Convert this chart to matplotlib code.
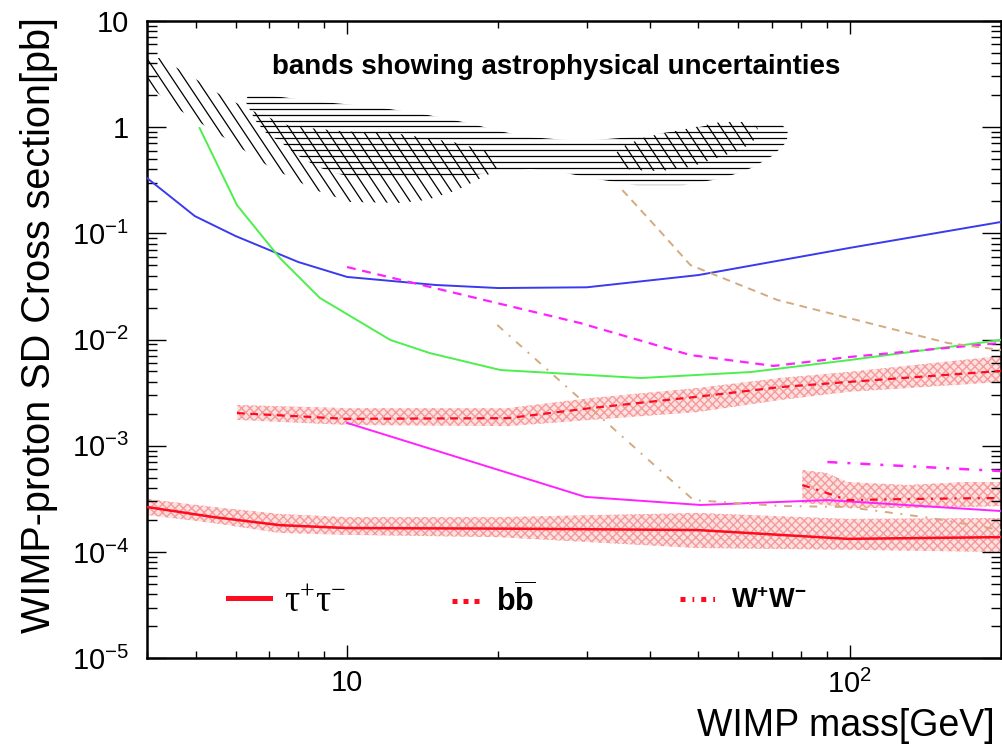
import numpy as np
import matplotlib
matplotlib.use("Agg")
import matplotlib.pyplot as plt
from matplotlib.patches import Polygon
from matplotlib.collections import LineCollection
from matplotlib.lines import Line2D
from matplotlib.legend import Legend
from matplotlib.ticker import FuncFormatter, LogLocator, NullFormatter

plt.rcParams['font.family'] = 'Liberation Sans'
plt.rcParams['mathtext.fontset'] = 'custom'
plt.rcParams['mathtext.rm'] = 'Liberation Sans'
plt.rcParams['mathtext.it'] = 'Liberation Sans:italic'
plt.rcParams['mathtext.bf'] = 'Liberation Sans:bold'
plt.rcParams['mathtext.sf'] = 'Liberation Serif'   # serif tau in the legend

# ---- limit curves: WIMP mass [GeV] vs SD cross section [pb]
blue_m = [4.0, 4.98, 6.0, 8.0, 10, 15, 20, 30, 50, 100, 200]
blue_s = [0.331, 0.145, 0.0942, 0.0536, 0.0388, 0.0326, 0.0305, 0.031, 0.0404, 0.0728, 0.1277]

green_m = [5.09, 6.04, 7.35, 8.83, 12.2, 14.6, 20.2, 38.4, 63.5, 100, 200]
green_s = [0.978, 0.184, 0.0585, 0.0246, 0.00989, 0.00746, 0.00516, 0.00434, 0.00494, 0.00641, 0.00989]

mag_dash_m = [10, 29.1, 48.2, 70.6, 100.3, 200]
mag_dash_s = [0.0481, 0.01428, 0.00714, 0.00564, 0.00686, 0.00929]

mag_m = [10, 29.8, 50.5, 90.3, 200]
mag_s = [1.64e-3, 3.30e-4, 2.77e-4, 3.08e-4, 2.43e-4]

mag_dd_m = [90.3, 200]
mag_dd_s = [7.03e-4, 5.78e-4]

tan_dash_m = [35.3, 41.4, 48.2, 71.9, 156.7, 200]
tan_dash_s = [0.255, 0.112, 0.0502, 0.0235, 0.00927, 0.00796]

tan_dd_m = [19.9, 48.9, 72.9, 99, 145, 200]
tan_dd_s = [0.01371, 3.08e-4, 2.71e-4, 2.65e-4, 2.09e-4, 1.61e-4]

# ---- this work: tau+tau-, b bbar, W+W- with their bands
tau_m = [4.0, 5.43, 7.35, 10, 20, 49.8, 99, 200]
tau_s = [2.65e-4, 2.13e-4, 1.79e-4, 1.68e-4, 1.66e-4, 1.61e-4, 1.33e-4, 1.38e-4]
tau_hi = [3.16e-4, 2.65e-4, 2.28e-4, 2.13e-4, 2.13e-4, 2.33e-4, 2.05e-4, 2.09e-4]
tau_lo = [2.23e-4, 1.87e-4, 1.51e-4, 1.45e-4, 1.38e-4, 1.09e-4, 1.05e-4, 1.00e-4]

bb_m = [6.04, 10, 20.9, 30.5, 50, 72.9, 99, 200]
bb_s = [2.03e-3, 1.79e-3, 1.82e-3, 2.26e-3, 2.90e-3, 3.57e-3, 3.98e-3, 5.06e-3]
bb_hi = [2.42e-3, 2.26e-3, 2.26e-3, 2.81e-3, 3.50e-3, 4.35e-3, 4.94e-3, 7.00e-3]
bb_lo = [1.75e-3, 1.57e-3, 1.53e-3, 1.75e-3, 2.08e-3, 2.70e-3, 3.21e-3, 3.98e-3]

ww_m = [80.5, 90, 99, 130, 170, 200]
ww_s = [4.27e-4, 3.60e-4, 3.08e-4, 3.15e-4, 3.20e-4, 3.22e-4]
ww_hi = [5.91e-4, 5.54e-4, 4.56e-4, 4.27e-4, 4.56e-4, 4.56e-4]
ww_lo = [2.89e-4, 2.77e-4, 2.59e-4, 2.59e-4, 2.65e-4, 2.71e-4]

# ---- astrophysical uncertainty regions (outline points)
diag1_m = [4.0, 4.24, 4.82, 5.61, 6.41, 7.70, 9.68, 12.75, 16.26, 19.0, 20.17,
           19.71, 16.56, 14.43, 12.75, 10.14, 8.64, 6.96, 5.93, 4.54, 4.0]
diag1_s = [4.46, 4.46, 3.15, 2.00, 1.45, 1.02, 0.917, 0.859, 0.722, 0.594, 0.469,
           0.385, 0.255, 0.206, 0.193, 0.197, 0.255, 0.430, 0.707, 1.54, 2.54]

horiz_m = [6.35, 6.90, 8.52, 11.37, 13.79, 15.97, 18.07, 20.08, 22.94, 29.12,
           37.13, 45.43, 54.09, 72.86, 75.24, 75.24, 74.55, 70.58, 64.40, 60.10,
           54.83, 46.69, 37.47, 31.33, 27.19, 23.15, 19.00, 16.41, 10.47, 9.46,
           8.75, 7.95, 7.42, 6.87, 6.56, 6.29]
horiz_s = [2.00, 2.00, 1.757, 1.543, 1.354, 1.189, 1.044, 0.917, 0.805, 0.738,
           0.805, 0.917, 1.067, 1.090, 0.917, 0.805, 0.707, 0.545, 0.420, 0.369,
           0.324, 0.284, 0.284, 0.324, 0.369, 0.402, 0.369, 0.331, 0.331, 0.369,
           0.420, 0.545, 0.707, 0.897, 1.164, 1.719]

diag2_m = [33.88, 35.80, 39.23, 44.00, 50.48, 55.34, 63.50, 65.57, 65.57, 62.91,
           59.83, 53.59, 48.24, 42.03, 36.62, 34.19]
diag2_s = [0.545, 0.677, 0.805, 0.897, 1.022, 1.114, 1.114, 0.979, 0.805, 0.677,
           0.594, 0.500, 0.420, 0.385, 0.394, 0.458]

legend_labels = [r'$\mathsf{\tau^{+}\tau^{-}}$', r'$\mathbf{b\overline{b}}$', r'$\mathbf{W^{+}W^{-}}$']
legend_sizes = [27, 22, 19.5]

RED = '#ff0a1e'
BAND_FACE = '#fde0e0'
BAND_HATCH = '#f59a9a'
TAN = '#d4aa80'

W_PX, H_PX = 854, 637.5   # axes size in pixels


def hatch_region(ax, xs, ys, style):
    patch = Polygon(np.column_stack([xs, ys]), closed=True, fill=False, edgecolor='none')
    ax.add_patch(patch)
    if style == 'diag':
        step = 12 / W_PX
        drop = (H_PX / 1.5) / W_PX
        x0 = -0.0155 + step * np.arange(-50, 80)
        segs = [[(x, 1.0), (x + drop, 0.0)] for x in x0]
    else:
        y0 = 0.8804 - np.arange(0, 40) * 5.9 / H_PX
        segs = [[(0.0, y), (1.0, y)] for y in y0]
    lc = LineCollection(segs, colors='black', linewidths=0.9,
                        transform=ax.transAxes, zorder=2)
    ax.add_collection(lc, autolim=False)
    lc.set_clip_path(patch)


def band(ax, m, lo, hi):
    ax.fill_between(m, lo, hi, facecolor=BAND_FACE, edgecolor=BAND_HATCH,
                    hatch='xxxx', linewidth=0, zorder=1)


fig = plt.figure(figsize=(10.03, 7.46), dpi=100)
ax = fig.add_axes([147 / 1003, 87.75 / 746, 854 / 1003, 637.5 / 746])
ax.set_xscale('log')
ax.set_yscale('log')

band(ax, tau_m, tau_lo, tau_hi)
band(ax, bb_m, bb_lo, bb_hi)
band(ax, ww_m, ww_lo, ww_hi)

hatch_region(ax, diag1_m, diag1_s, 'diag')
hatch_region(ax, horiz_m, horiz_s, 'horiz')
hatch_region(ax, diag2_m, diag2_s, 'diag')

ax.plot(blue_m, blue_s, color='#3a3aee', lw=1.4, zorder=3)
ax.plot(green_m, green_s, color='#4cef4c', lw=1.4, zorder=3)
ax.plot(mag_dash_m, mag_dash_s, color='#ff22ff', lw=1.6, ls=(0, (4, 3)), zorder=3)
ax.plot(mag_m, mag_s, color='#ff22ff', lw=1.4, zorder=3)
ax.plot(mag_dd_m, mag_dd_s, color='#ff22ff', lw=1.8, ls=(0, (4, 4, 1.2, 4)), zorder=3)
ax.plot(tan_dash_m, tan_dash_s, color=TAN, lw=1.4, ls=(0, (4, 3)), zorder=3)
ax.plot(tan_dd_m, tan_dd_s, color=TAN, lw=1.4, ls=(0, (4, 4, 1, 4)), zorder=3)

ax.plot(tau_m, tau_s, color=RED, lw=1.8, zorder=4)
ax.plot(bb_m, bb_s, color=RED, lw=1.6, ls=(0, (3.5, 2.5)), zorder=4)
ax.plot(ww_m, ww_s, color=RED, lw=1.6, ls=(0, (3.5, 3, 1, 3)), zorder=4)

ax.set_xlim(4, 200)
ax.set_ylim(1e-5, 10)


def fmt(v, pos):
    if np.isclose(v, 1):
        return '1'
    if np.isclose(v, 10):
        return '10'
    return r'$\mathregular{10^{%d}}$' % round(np.log10(v))


ax.xaxis.set_major_formatter(FuncFormatter(fmt))
ax.yaxis.set_major_formatter(FuncFormatter(fmt))
ax.xaxis.set_minor_formatter(NullFormatter())
ax.yaxis.set_minor_formatter(NullFormatter())
ax.yaxis.set_major_locator(LogLocator(base=10, numticks=20))
ax.yaxis.set_minor_locator(LogLocator(base=10, subs=np.arange(2, 10), numticks=100))
ax.xaxis.set_minor_locator(LogLocator(base=10, subs=np.arange(2, 10), numticks=100))

ax.tick_params(which='both', direction='in', top=True, right=True, width=1.0, labelsize=21)
ax.tick_params(axis='y', which='major', length=13.5, pad=13)
ax.tick_params(axis='y', which='minor', length=7)
ax.tick_params(axis='x', which='major', length=9.5, pad=8)
ax.tick_params(axis='x', which='minor', length=5)
for sp in ax.spines.values():
    sp.set_linewidth(1.8)

ax.set_xlabel('WIMP mass[GeV]', fontsize=27, ha='right')
ax.xaxis.set_label_coords(0.993, -0.078)
ax.set_ylabel('WIMP-proton SD Cross section[pb]', fontsize=28.5)
ax.yaxis.set_label_coords(-0.104, 0.523)

ax.text(0.479, 0.9275, 'bands showing astrophysical uncertainties', transform=ax.transAxes,
        fontsize=20, fontweight='bold', ha='center', va='center')

handles = [Line2D([], [], color=RED, lw=3.6),
           Line2D([], [], color=RED, lw=3.6, ls=(0, (1.0, 1.2))),
           Line2D([], [], color=RED, lw=3.6, ls=(0, (1.0, 1.4, 0.35, 1.4)))]
entry_x = [0.0948, 0.3571, 0.6241]
handle_len = [1.12, 1.05, 1.5]
for h, lab, x, fs, hl in zip(handles, legend_labels, entry_x, legend_sizes, handle_len):
    leg = Legend(ax, [h], [lab], loc='center left', bbox_to_anchor=(x, 0.0898),
                 frameon=False, fontsize=fs, handlelength=hl, handletextpad=0.38,
                 borderpad=0, borderaxespad=0)
    ax.add_artist(leg)

fig.savefig('out.png', dpi=100)
